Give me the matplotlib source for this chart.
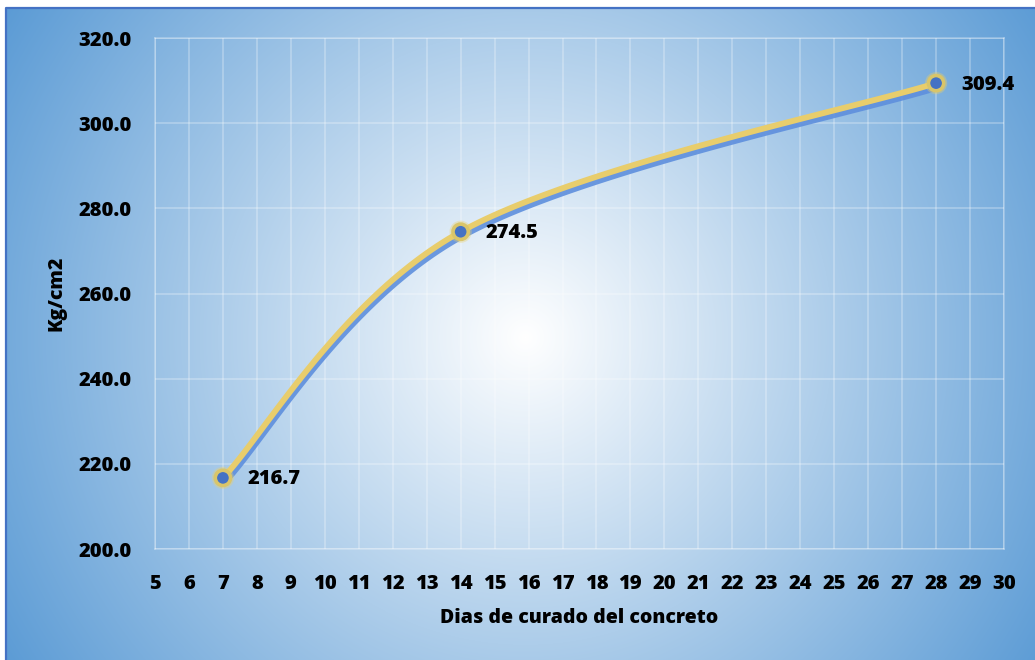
import numpy as np
import matplotlib
matplotlib.use("Agg")
import matplotlib.pyplot as plt
import matplotlib.patheffects as pe
from matplotlib.colors import to_rgb

plt.rcParams['font.family'] = ['Open Sans', 'DejaVu Sans']
WEIGHT = 800

# curing age (days) vs compressive strength
dias = [7, 14, 28]
resistencia = [216.7, 274.5, 309.4]
x_ticks = list(range(5, 31))
y_ticks = [200, 220, 240, 260, 280, 300, 320]
x_label = "Dias de curado del concreto"
y_label = "Kg/cm2"

W, H, DPI = 1035, 660, 100
BLUE = "#5B9BD5"
GOLD = "#E8CD6C"
MARK = "#4472C4"


def smooth_curve(xs, ys, sx, sy, n=60):
    """Bezier smoothing (Catmull-Rom style) evaluated in screen-scaled space."""
    P = np.column_stack([np.asarray(xs, float) * sx, np.asarray(ys, float) * sy])
    Pp = np.vstack([P[0], P, P[-1]])
    out = []
    for i in range(len(P) - 1):
        p0, p1 = P[i], P[i + 1]
        c1 = p0 + (Pp[i + 2] - Pp[i]) / 6.0
        c2 = p1 - (Pp[i + 3] - Pp[i + 1]) / 6.0
        t = np.linspace(0, 1, n)[:, None]
        seg = ((1 - t) ** 3) * p0 + 3 * ((1 - t) ** 2) * t * c1 + 3 * (1 - t) * t ** 2 * c2 + t ** 3 * p1
        out.append(seg if i == 0 else seg[1:])
    seg = np.vstack(out)
    return seg[:, 0] / sx, seg[:, 1] / sy


fig = plt.figure(figsize=(W / DPI, H / DPI), dpi=DPI)

# radial gradient background: white centre fading to blue at the corners
bg = fig.add_axes([0, 0, 1, 1], zorder=-10)
cx, cy = 525, 337
yy, xx = np.mgrid[0:H, 0:W]
r = np.hypot(xx - cx, yy - cy) / np.hypot(cx - 6, cy - 8)
r = np.clip(r, 0, 1)[..., None]
img = (1 - r) * np.array([1.0, 1.0, 1.0]) + r * np.array(to_rgb(BLUE))
img[:8, :] = 1.0
img[:, :6] = 1.0
bg.imshow(img, extent=[0, W, H, 0], aspect="auto", interpolation="bilinear")
bg.plot([6, 6, W], [H, 8, 8], color="#4472C4", lw=1.6)
bg.set_xlim(0, W)
bg.set_ylim(H, 0)
bg.axis("off")

ax = fig.add_axes([155 / W, 1 - 549 / H, (1004 - 155) / W, (549 - 38) / H])
ax.set_facecolor("none")
ax.set_xlim(5, 30)
ax.set_ylim(200, 320)
ax.set_xticks(x_ticks)
ax.set_yticks(y_ticks)
ax.set_yticklabels([f"{v:.1f}" for v in y_ticks])
ax.grid(True, color="white", alpha=0.32, lw=1.1)
for s in ax.spines.values():
    s.set_color((1, 1, 1, 0.32))
    s.set_linewidth(1.1)
ax.tick_params(length=0, labelsize=14.5)
ax.tick_params(axis="x", pad=18)
ax.tick_params(axis="y", pad=17)
for lab in ax.get_xticklabels() + ax.get_yticklabels():
    lab.set_fontweight(WEIGHT)

ppx = ax.get_window_extent().width / 25
ppy = ax.get_window_extent().height / 120
cxs, cys = smooth_curve(dias, resistencia, ppx, ppy)
ax.plot(cxs, cys, color=GOLD, lw=4.2, solid_capstyle="round", zorder=3,
        path_effects=[pe.SimpleLineShadow(offset=(1.2, -3.2), shadow_color="#5E8FDD", alpha=0.9),
                      pe.Normal()])
ax.plot(dias, resistencia, "o", ms=11, mfc=MARK, mec="#D9C56A", mew=2.6, zorder=4,
        path_effects=[pe.Stroke(linewidth=5, foreground=(0.93, 0.82, 0.4, 0.35)), pe.Normal()])

for x, y in zip(dias, resistencia):
    ax.annotate(f"{y:.1f}", (x, y), xytext=(18, -1), textcoords="offset points",
                ha="left", va="center", fontsize=14.5, fontweight=WEIGHT)

ax.set_xlabel(x_label, fontsize=14, fontweight=WEIGHT, labelpad=10)
ax.set_ylabel(y_label, fontsize=14, fontweight=WEIGHT, labelpad=8)

fig.savefig("out.png", dpi=DPI)
